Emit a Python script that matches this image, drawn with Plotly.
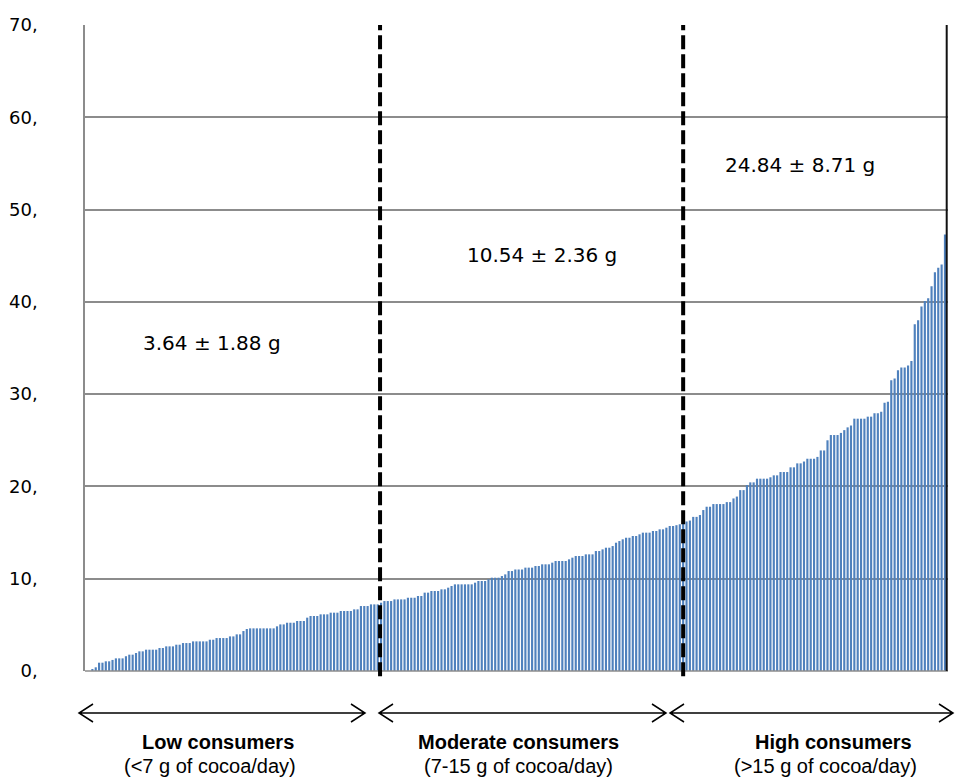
import plotly.graph_objects as go

# ---- data (sorted intake in g of cocoa/day) ----
low_values = [0.2, 0.4, 0.9, 0.9, 1.05, 1.05, 1.2, 1.37, 1.37, 1.37, 1.6, 1.77, 1.77, 1.95,
              2.13, 2.13, 2.31, 2.31, 2.31, 2.31, 2.49, 2.49, 2.67, 2.67, 2.67, 2.85, 2.85,
              3.03, 3.03, 3.03, 3.21, 3.21, 3.21, 3.21, 3.21, 3.39, 3.39, 3.57, 3.57, 3.57,
              3.57, 3.75, 3.75,
              3.97, 3.97, 4.33, 4.55, 4.62, 4.62, 4.62, 4.62, 4.62, 4.62, 4.62, 4.62, 4.84,
              5.05, 5.05, 5.23, 5.23, 5.23, 5.42, 5.42, 5.42, 5.78, 5.96, 5.96, 5.96, 6.14,
              6.14, 6.14, 6.32, 6.32, 6.32, 6.5, 6.5, 6.5, 6.5, 6.68, 6.68, 7.04, 7.04, 7.04,
              7.22, 7.22, 7.22]
moderate_values = [7.4, 7.58, 7.58, 7.58, 7.76, 7.76, 7.76, 7.76, 7.94, 7.94, 7.94, 8.13, 8.13,
                   8.49, 8.49, 8.67, 8.67, 8.67, 8.85, 8.85, 9.03, 9.21, 9.39, 9.39, 9.39, 9.39,
                   9.39, 9.39, 9.57, 9.75, 9.75, 9.75, 9.93, 10.11, 10.11, 10.11, 10.29, 10.47,
                   10.83, 10.83, 11.0, 11.0, 11.0, 11.2, 11.2,
                   11.2, 11.38, 11.38, 11.56, 11.56, 11.56, 11.74, 11.92, 11.92, 11.92, 11.92,
                   12.1, 12.28, 12.46, 12.46, 12.46, 12.64, 12.64, 12.64, 13.0, 13.0, 13.18,
                   13.36, 13.36, 13.54, 13.9, 14.08, 14.27, 14.44, 14.44, 14.63, 14.63, 14.81,
                   14.99, 14.99, 14.99, 15.17, 15.17, 15.35, 15.35, 15.53, 15.71, 15.71, 15.8,
                   15.9]
high_values = [16.07, 16.2, 16.3, 16.7, 16.7, 16.9, 17.44, 17.8, 17.8, 18.09, 18.09, 18.09,
               18.09, 18.3, 18.3, 18.7, 18.9, 19.6, 19.6, 20.15, 20.44, 20.44, 20.84, 20.84,
               20.84, 20.84, 20.99, 21.2, 21.2, 21.56, 21.56, 21.56, 22.07, 22.07, 22.5, 22.5,
               22.7, 23.0, 23.0, 23.0, 23.2,
               23.9, 23.9, 25.0, 25.57, 25.57, 25.57, 25.8, 26.1, 26.4, 26.6,
               27.34, 27.34, 27.34, 27.34, 27.56, 27.56, 27.92, 27.92, 28.1, 29.07, 29.18,
               31.5, 31.7, 32.6, 32.9, 32.9, 33.1, 33.6, 37.56, 38.0, 39.5, 40.1, 40.4, 41.7,
               43.2, 43.7, 44.05, 47.3]

group_means = ["3.64 ± 1.88 g", "10.54 ± 2.36 g", "24.84 ± 8.71 g"]
group_names = ["Low consumers", "Moderate consumers", "High consumers"]
group_ranges = ["(<7 g of cocoa/day)", "(7-15 g of cocoa/day)", "(>15 g of cocoa/day)"]
y_tick_values = [0, 10, 20, 30, 40, 50, 60, 70]
y_tick_labels = ["0,", "10,", "20,", "30,", "40,", "50,", "60,", "70,"]

all_values = low_values + moderate_values + high_values
n = len(all_values)
n_low = len(low_values)
n_mod = len(moderate_values)

W, H = 955, 778
L, R, T, B = 85, 7, 25, 107
PW, PH = W - L - R, H - T - B


def px(x):
    return (x - L) / PW


def py(y):
    return (H - B - y) / PH


fig = go.Figure()
fig.add_trace(go.Bar(
    x=list(range(n)), y=all_values,
    marker=dict(color="#4F81BD", line=dict(width=0)),
    hoverinfo="y", showlegend=False,
))

shapes = []
# baseline
shapes.append(dict(type="line", xref="paper", yref="paper", x0=0, x1=1, y0=0, y1=0,
                   line=dict(color="#8c8c8c", width=1.5), layer="above"))
# dashed group separators
for xs in [n_low - 0.3, n_low + n_mod]:
    shapes.append(dict(type="line", xref="x", yref="paper", x0=xs, x1=xs, y0=-0.008, y1=1.0,
                       line=dict(color="black", width=4, dash="14px,5px")))
# right border
shapes.append(dict(type="line", xref="paper", yref="paper", x0=0.9985, x1=0.9985, y0=0, y1=1,
                   line=dict(color="#111111", width=2)))
# double-headed arrows
arrow_y = 713
for x0, x1 in [(79, 365), (379, 666), (670, 953)]:
    path = (f"M{px(x0)},{py(arrow_y)} L{px(x1)},{py(arrow_y)} "
            f"M{px(x0 + 14)},{py(arrow_y - 9)} L{px(x0)},{py(arrow_y)} L{px(x0 + 14)},{py(arrow_y + 9)} "
            f"M{px(x1 - 14)},{py(arrow_y - 9)} L{px(x1)},{py(arrow_y)} L{px(x1 - 14)},{py(arrow_y + 9)}")
    shapes.append(dict(type="path", xref="paper", yref="paper", path=path,
                       line=dict(color="black", width=1.5)))

annotations = []
for txt, (ax, ay) in zip(group_means, [(212, 343), (542, 255), (800, 165)]):
    annotations.append(dict(text=txt, xref="paper", yref="paper", x=px(ax), y=py(ay),
                            showarrow=False, xanchor="center", yanchor="middle",
                            font=dict(family="DejaVu Sans", size=20, color="black")))
for name, rng, cx1, cx2 in zip(group_names, group_ranges, [218, 518, 833], [210, 518, 825]):
    annotations.append(dict(text=f"<b>{name}</b>", xref="paper", yref="paper", x=px(cx1), y=py(742),
                            showarrow=False, xanchor="center", yanchor="middle",
                            font=dict(family="Liberation Sans", size=20, color="black")))
    annotations.append(dict(text=rng, xref="paper", yref="paper", x=px(cx2), y=py(766),
                            showarrow=False, xanchor="center", yanchor="middle",
                            font=dict(family="Liberation Sans", size=20, color="black")))

fig.update_layout(
    width=W, height=H,
    margin=dict(l=L, r=R, t=T, b=B, pad=0),
    paper_bgcolor="white", plot_bgcolor="white",
    bargap=0.36,
    shapes=shapes, annotations=annotations,
    xaxis=dict(range=[-2.2, n - 1 + 0.9], showticklabels=False, showgrid=False, zeroline=False,
               showline=False, ticks=""),
    yaxis=dict(range=[0, 70], tickvals=y_tick_values, ticktext=y_tick_labels,
               showgrid=True, gridcolor="#8c8c8c", gridwidth=1.5, zeroline=False,
               showline=True, linecolor="#8c8c8c", linewidth=1.5, ticks="",
               ticklabelstandoff=42,
               tickfont=dict(family="DejaVu Sans", size=18, color="black")),
    font=dict(family="DejaVu Sans", color="black"),
)

fig.write_html("out.html")
